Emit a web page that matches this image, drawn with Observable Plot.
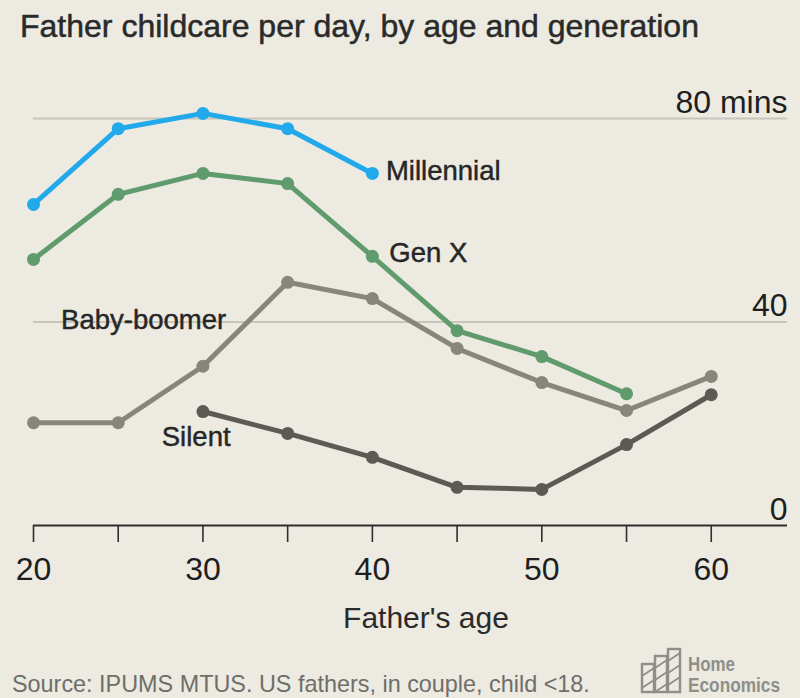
<!DOCTYPE html>
<html>
<head>
<meta charset="utf-8">
<script src="https://cdn.jsdelivr.net/npm/d3@7"></script>
<script src="https://cdn.jsdelivr.net/npm/@observablehq/plot@0.6"></script>
<style>
  html, body { margin: 0; padding: 0; background: #ECEAE1; }
  #chart { width: 800px; height: 698px; position: relative; overflow: hidden; }
</style>
</head>
<body>
<div id="chart"></div>
<script>
// ---- Data ----
const ages = [20, 25, 30, 35, 40, 45, 50, 55, 60];
const millennial = [63.1, 78.0, 81.0, 78.0, 69.2, null, null, null, null];
const genX       = [52.3, 65.1, 69.2, 67.2, 52.9, 38.3, 33.2, 25.9, null];
const boomer     = [20.2, 20.2, 31.3, 47.8, 44.6, 34.8, 28.1, 22.6, 29.3];
const silent     = [null, null, 22.4, 18.1, 13.4, 7.5, 7.1, 15.9, 25.7];

const seriesNames  = ["Silent", "Baby-boomer", "Gen X", "Millennial"];
const seriesValues = [silent, boomer, genX, millennial];
const seriesColors = ["#5E5955", "#86867C", "#5F9B6C", "#22A9EC"];

const xTicks = [20, 25, 30, 35, 40, 45, 50, 55, 60];
const xTickLabels = ["20", "", "30", "", "40", "", "50", "", "60"];
const yTicks = [0, 40, 80];
const yTickLabels = ["0", "40", "80 mins"];

// series label anchors (in data units)
const labelNames = ["Millennial", "Gen X", "Baby-boomer", "Silent"];
const labelAges  = [40.8, 41.0, 26.5, 29.6];
const labelMins  = [69.6, 53.5, 40.3, 17.4];
const labelAnchors = ["start", "start", "middle", "middle"];

// ---- Build tables ----
const rows = [];
seriesNames.forEach((name, i) => {
  ages.forEach((a, j) => {
    const v = seriesValues[i][j];
    if (v != null) rows.push({series: name, age: a, minutes: v});
  });
});
const labels = labelNames.map((t, i) => ({text: t, age: labelAges[i], minutes: labelMins[i], anchor: labelAnchors[i]}));

const FONT = "'Liberation Sans', Arial, sans-serif";
const labelStyle = {fontSize: 27.5, fill: "#262626", stroke: "#262626", strokeWidth: 0.45};

const plot = Plot.plot({
  width: 800,
  height: 698,
  marginLeft: 33,
  marginRight: 13,
  marginTop: 118,
  marginBottom: 173,
  style: {background: "transparent", fontFamily: FONT, overflow: "visible"},
  x: {domain: [20, 64.5], axis: null},
  y: {domain: [0, 80], axis: null},
  color: {domain: seriesNames, range: seriesColors},
  marks: [
    Plot.ruleY([40, 80], {stroke: "#C8C6BC", strokeWidth: 2}),
    Plot.ruleY([0], {stroke: "#2E2E2E", strokeWidth: 2}),
    Plot.axisX({
      ticks: xTicks,
      tickFormat: (d) => xTickLabels[xTicks.indexOf(d)],
      tickSize: 17,
      tickPadding: 15,
      fontSize: 32,
      stroke: "#2E2E2E",
      strokeWidth: 1.6,
      fill: "#1E1E1E",
      label: null
    }),
    Plot.text(yTicks, {
      y: (d) => d,
      text: (d, i) => yTickLabels[i],
      frameAnchor: "right",
      textAnchor: "end",
      lineAnchor: "bottom",
      dy: -6,
      fontSize: 32,
      fill: "#1E1E1E"
    }),
    Plot.line(rows, {
      x: "age", y: "minutes", z: "series", stroke: "series",
      strokeWidth: 5, strokeLinejoin: "round", strokeLinecap: "round"
    }),
    Plot.dot(rows, {x: "age", y: "minutes", fill: "series", r: 6.5, stroke: null}),
    Plot.text(labels.filter(d => d.anchor === "start"), {
      x: "age", y: "minutes", text: "text", textAnchor: "start", ...labelStyle
    }),
    Plot.text(labels.filter(d => d.anchor === "middle"), {
      x: "age", y: "minutes", text: "text", textAnchor: "middle", ...labelStyle
    })
  ]
});

const host = document.getElementById("chart");
host.appendChild(plot);

const svg = d3.select(plot);

// Title, axis label, source, logo
svg.append("text")
  .attr("x", 20).attr("y", 37)
  .attr("text-anchor", "start")
  .attr("font-size", 32)
  .attr("fill", "#2A2A2A").attr("stroke", "#2A2A2A").attr("stroke-width", 0.5)
  .text("Father childcare per day, by age and generation");

svg.append("text")
  .attr("x", 426).attr("y", 628)
  .attr("text-anchor", "middle")
  .attr("font-size", 30)
  .attr("fill", "#2A2A2A")
  .text("Father's age");

svg.append("text")
  .attr("x", 12).attr("y", 692)
  .attr("text-anchor", "start")
  .attr("font-size", 23.4)
  .attr("fill", "#6E6E6A")
  .text("Source: IPUMS MTUS. US fathers, in couple, child <18.");

const logo = svg.append("g").attr("fill", "none").attr("stroke", "#8F8F8A").attr("stroke-width", 2.4);
logo.append("rect").attr("x", 642).attr("y", 664).attr("width", 12).attr("height", 28);
logo.append("rect").attr("x", 655).attr("y", 656).attr("width", 12).attr("height", 36);
logo.append("rect").attr("x", 668).attr("y", 649).attr("width", 12).attr("height", 43);
[[642,676,654,668],[642,688,654,680],[655,668,667,660],[655,680,667,672],[655,692,667,684],[668,661,680,653],[668,673,680,665],[668,685,680,677]]
  .forEach(([x1,y1,x2,y2]) => logo.append("line").attr("x1",x1).attr("y1",y1).attr("x2",x2).attr("y2",y2).attr("stroke-width",1.8));

svg.append("text")
  .attr("x", 688).attr("y", 671)
  .attr("text-anchor", "start")
  .attr("font-size", 20).attr("font-weight", "bold")
  .attr("textLength", 47).attr("lengthAdjust", "spacingAndGlyphs")
  .attr("fill", "#8F8F8A")
  .text("Home");
svg.append("text")
  .attr("x", 688).attr("y", 692)
  .attr("text-anchor", "start")
  .attr("font-size", 20).attr("font-weight", "bold")
  .attr("textLength", 92).attr("lengthAdjust", "spacingAndGlyphs")
  .attr("fill", "#8F8F8A")
  .text("Economics");
</script>
</body>
</html>
